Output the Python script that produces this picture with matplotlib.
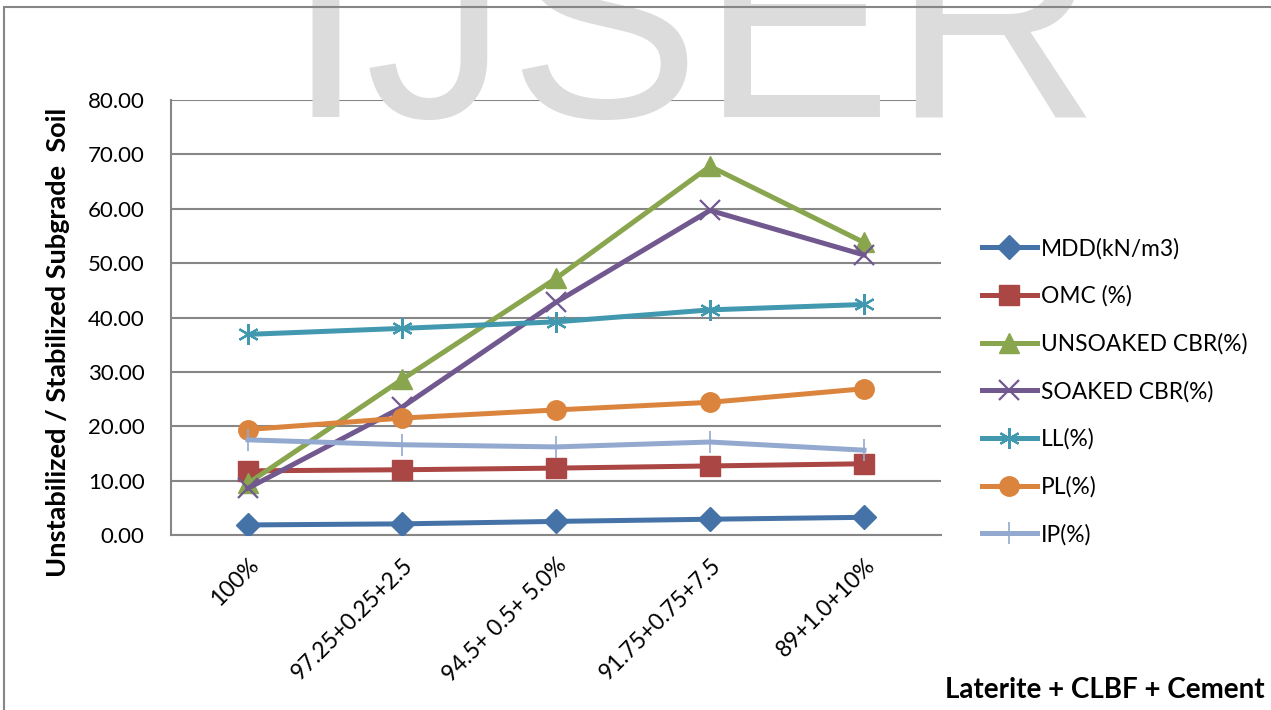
import matplotlib
matplotlib.use("Agg")
import matplotlib.pyplot as plt
from matplotlib.patches import Rectangle

# mix proportions (Laterite + CLBF + Cement)
mixes = ["100%", "97.25+0.25+2.5", "94.5+ 0.5+ 5.0%", "91.75+0.75+7.5", "89+1.0+10%"]

mdd = [1.85, 2.05, 2.50, 2.90, 3.25]
omc = [11.8, 12.0, 12.3, 12.7, 13.1]
unsoaked_cbr = [9.5, 28.6, 47.2, 67.8, 53.8]
soaked_cbr = [8.6, 23.5, 42.8, 59.7, 51.5]
ll = [36.9, 38.0, 39.2, 41.4, 42.4]
pl = [19.4, 21.5, 23.0, 24.4, 26.9]
ip = [17.5, 16.6, 16.2, 17.1, 15.6]

y_ticks = [0, 10, 20, 30, 40, 50, 60, 70, 80]

FONT = "Lato"
plt.rcParams["font.family"] = [FONT, "DejaVu Sans"]

fig = plt.figure(figsize=(12.71, 7.10), dpi=100)
W, H = 1271, 710

# faint journal watermark behind everything
fig.text(285 / W, 1 - 117 / H, "IJSER", fontsize=207, color="#dcdcdc",
         family="Liberation Sans", ha="left", va="baseline", zorder=0)

# chart area border
fig.patches.append(Rectangle((4 / W, -0.05), 1.1, 1 - 7 / H + 0.05,
                             transform=fig.transFigure, fill=False,
                             edgecolor="#868686", linewidth=1.5, zorder=1))

ax = fig.add_axes([171 / W, 1 - 535 / H, (941 - 171) / W, (535 - 100) / H])
ax.set_facecolor("none")

x = list(range(len(mixes)))
lw = 3.6
series = [
    ("MDD(kN/m3)", mdd, "#4573A7", dict(marker="D", markersize=12)),
    ("OMC (%)", omc, "#AA4643", dict(marker="s", markersize=14)),
    ("UNSOAKED CBR(%)", unsoaked_cbr, "#89A54E", dict(marker="^", markersize=15)),
    ("SOAKED CBR(%)", soaked_cbr, "#71588F", dict(marker="x", markersize=14, markeredgewidth=1.6)),
    ("LL(%)", ll, "#4198AF", dict(marker=(6, 2, 0), markersize=15, markeredgewidth=1.6)),
    ("PL(%)", pl, "#DB843D", dict(marker="o", markersize=14)),
    ("IP(%)", ip, "#93A9CF", dict(marker="|", markersize=16, markeredgewidth=1.2)),
]
for label, vals, color, mk in series:
    ax.plot(x, vals, color=color, linewidth=lw, label=label,
            markerfacecolor=color, markeredgecolor=color, zorder=3, **mk)

ax.set_xlim(-0.5, len(mixes) - 0.5)
ax.set_ylim(0, 80)
ax.set_yticks(y_ticks)
ax.set_yticklabels([f"{v:.2f}" for v in y_ticks], fontsize=16)
ax.set_xticks(x)
ax.set_xticklabels(mixes, fontsize=16.5, rotation=45, ha="right",
                   rotation_mode="anchor")
ax.tick_params(axis="y", length=0, pad=19)
ax.tick_params(axis="x", length=0, pad=14)

ax.grid(axis="y", color="#868686", linewidth=1.5, zorder=1)
ax.set_axisbelow(True)
for side in ["top", "right"]:
    ax.spines[side].set_visible(False)
for side in ["left", "bottom"]:
    ax.spines[side].set_color("#868686")
    ax.spines[side].set_linewidth(1.5)

fig.text(58 / W, 1 - 342 / H, "Unstabilized / Stabilized Subgrade  Soil",
         rotation=90, fontsize=19.5, fontweight="bold", ha="center", va="center")
fig.text(1265 / W, 1 - 690 / H, "Laterite + CLBF + Cement",
         fontsize=20, fontweight="bold", ha="right", va="center")

fig.legend(loc="center left", bbox_to_anchor=(982 / W, 1 - 391.5 / H),
           frameon=False, fontsize=16.4, handlelength=2.4, handletextpad=0.2,
           labelspacing=1.15, borderpad=0, borderaxespad=0)

fig.savefig("out.png", dpi=100)
